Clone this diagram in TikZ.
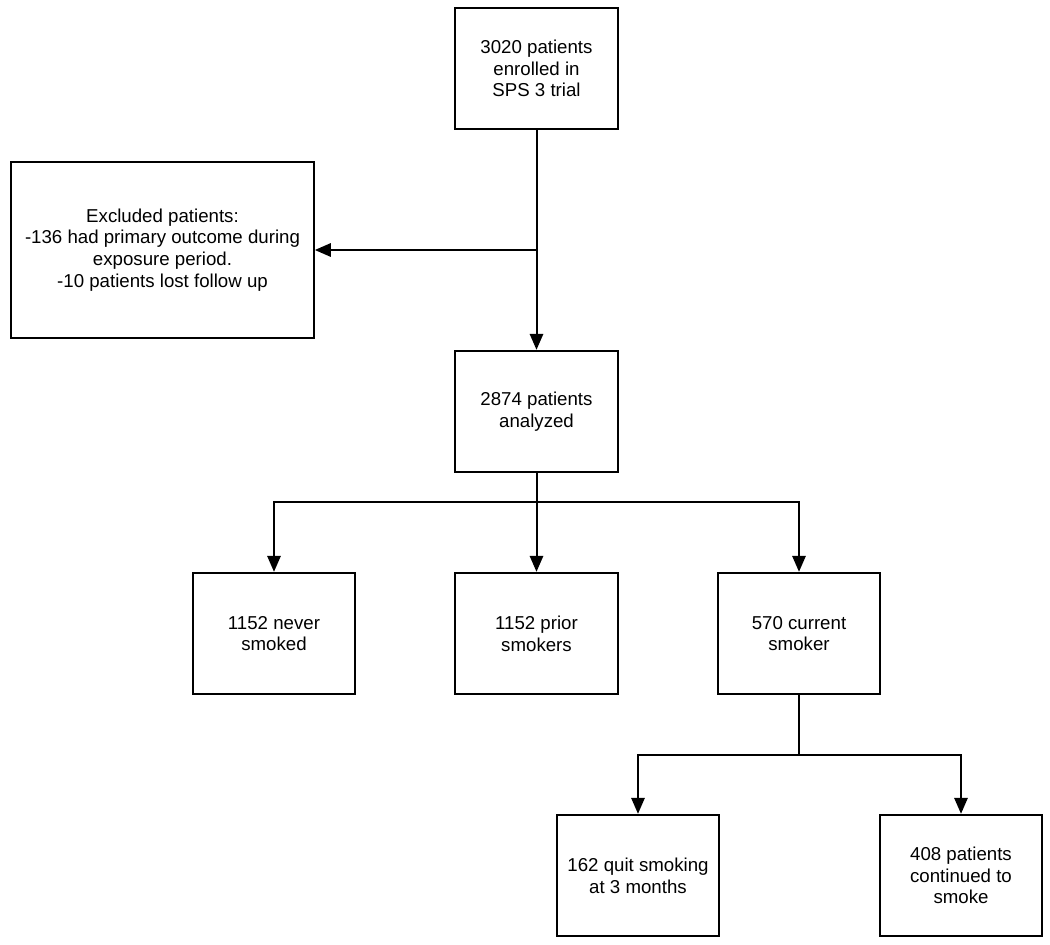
\documentclass[tikz,border=0pt]{standalone}
\usepackage{fontspec}
\setmainfont{Liberation Sans}
\usepackage{tikz}
\usetikzlibrary{arrows.meta}

\tikzset{
  box/.style={draw, line width=1.5pt, minimum width=122pt, minimum height=91pt, align=center, font=\fontsize{14}{16.3}\selectfont},
  widebox/.style={box, minimum width=227pt, minimum height=132pt},
  arr/.style={line width=1.5pt, -{Triangle[length=12pt,width=10pt]}},
  line/.style={line width=1.5pt}
}

\begin{document}
\begin{tikzpicture}[x=0.75pt, y=-0.75pt]
\useasboundingbox (0,0) rectangle (1050,945);

\node [box] (enrolled) at (536.5,68.5) {3020 patients\\enrolled in\\SPS 3 trial};
\node [widebox] (excluded) at (162.5,250) {Excluded patients:\\-136 had primary outcome during\\exposure period.\\-10 patients lost follow up};
\node [box] (analyzed) at (536.5,411.5) {2874 patients\\analyzed};

\node [box] (never) at (274,633.5) {1152 never\\smoked};
\node [box] (prior) at (536.5,633.5) {1152 prior\\smokers};
\node [box] (current) at (799,633.5) {570 current\\smoker};

\node [box] (quit) at (638,875.5) {162 quit smoking\\at 3 months};
\node [box] (continued) at (961,875.5) {408 patients\\continued to\\smoke};

\coordinate (split1) at (536.5,502);
\coordinate (split2) at (799,755);

% enrolled -> analyzed, with exclusions off to the left
\draw [arr] (enrolled.south) -- (analyzed.north);
\draw [arr] (enrolled.south |- excluded.east) -- (excluded.east);

% smoking status
\draw [line] (analyzed.south) -- (split1);
\draw [arr] (split1) -| (never.north);
\draw [arr] (split1) -- (prior.north);
\draw [arr] (split1) -| (current.north);

% current smokers at 3 months
\draw [line] (current.south) -- (split2);
\draw [arr] (split2) -| (quit.north);
\draw [arr] (split2) -| (continued.north);
\end{tikzpicture}
\end{document}
